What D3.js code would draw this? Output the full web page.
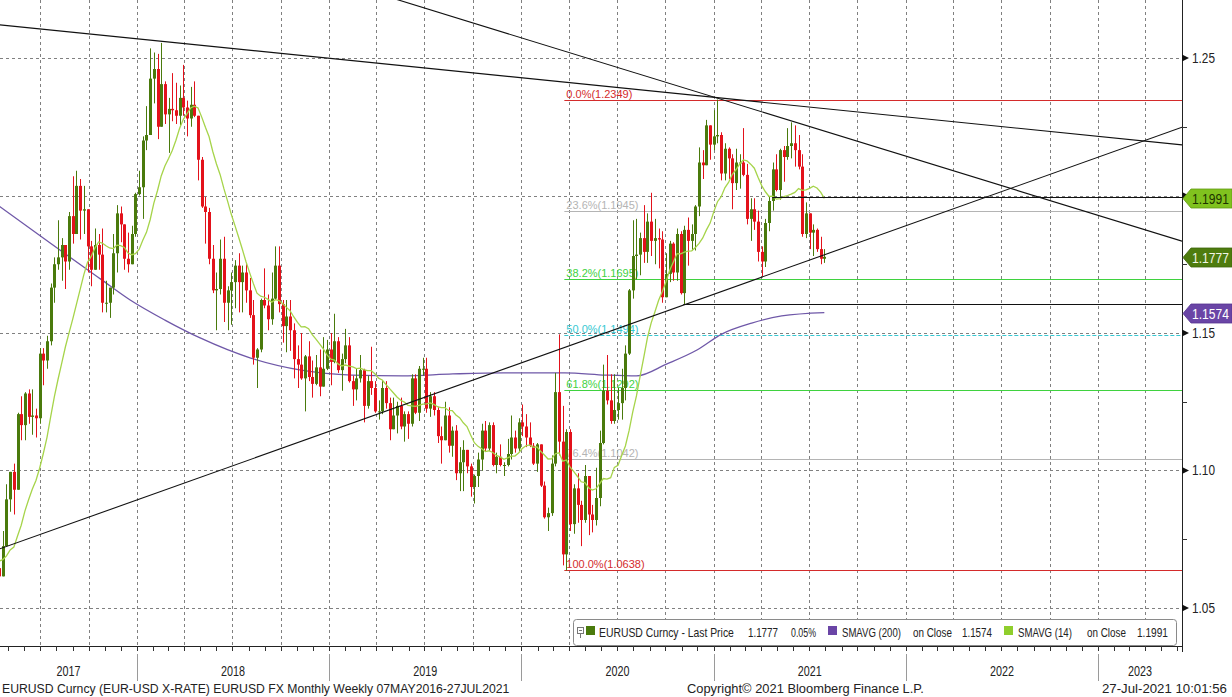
<!DOCTYPE html>
<html><head><meta charset="utf-8">
<script src="https://cdn.jsdelivr.net/npm/d3@7"></script>
<style>
html,body{margin:0;padding:0;background:#fff;}
svg{display:block;}
</style></head><body>
<svg id="c" width="1232" height="697"></svg>
<script>
// ---------------- DATA ----------------
const firstWeek = "2017-01-06"; // weekly bars, dated Fridays
const firstOpen = 1.0465;
const weekHigh = [
 1.0625,1.0685,1.0720,1.0775,1.0830,1.0795,1.0680,1.0630,1.0630,1.0700,1.0745,1.0820,1.0905,1.0690,1.0680,1.0780,1.0950,1.0995,1.1025,1.1210,1.1270,1.1285,1.1295,1.1295,1.1225,1.1445,1.1445,1.1490,1.1680,1.1775,1.1910,1.1845,1.1780,1.1940,1.2070,1.2090,1.2060,1.2035,1.1950,1.1835,1.1880,1.1860,1.1880,1.1690,1.1665,1.1860,1.1965,1.1960,1.1865,1.1865,1.1890,1.2010,
 1.2090,1.2215,1.2325,1.2535,1.2520,1.2515,1.2555,1.2415,1.2355,1.2445,1.2410,1.2400,1.2475,1.2345,1.2395,1.2415,1.2280,1.2140,1.1995,1.1955,1.1820,1.1720,1.1840,1.1850,1.1670,1.1720,1.1765,1.1790,1.1745,1.1750,1.1700,1.1620,1.1445,1.1625,1.1735,1.1640,1.1720,1.1815,1.1815,1.1620,1.1620,1.1620,1.1535,1.1455,1.1500,1.1420,1.1470,1.1400,1.1420,1.1440,1.1485,1.1475,
 1.1500,1.1570,1.1485,1.1425,1.1515,1.1485,1.1345,1.1370,1.1420,1.1370,1.1345,1.1450,1.1325,1.1255,1.1325,1.1325,1.1265,1.1265,1.1250,1.1265,1.1215,1.1215,1.1350,1.1350,1.1380,1.1410,1.1410,1.1285,1.1285,1.1230,1.1160,1.1250,1.1230,1.1160,1.1165,1.1085,1.1110,1.1075,1.1025,1.0985,1.1065,1.1170,1.1180,1.1175,1.1175,1.1065,1.1095,1.1030,1.1115,1.1200,1.1145,1.1190,
 1.1240,1.1205,1.1175,1.1100,1.1100,1.1095,1.0960,1.0865,1.1055,1.1355,1.1495,1.1235,1.1150,1.1150,1.0950,1.0990,1.0890,1.1020,1.0980,1.0875,1.1010,1.1145,1.1385,1.1420,1.1350,1.1350,1.1300,1.1370,1.1455,1.1660,1.1910,1.1915,1.1865,1.1965,1.1935,1.2010,1.1915,1.1880,1.1870,1.1790,1.1835,1.1830,1.1880,1.1870,1.1890,1.1920,1.1895,1.1965,1.2175,1.2165,1.2275,1.2250,
 1.2310,1.2349,1.2230,1.2190,1.2175,1.2150,1.2170,1.2150,1.2245,1.2115,1.1990,1.1990,1.1945,1.1815,1.1915,1.1995,1.2120,1.2150,1.2170,1.2180,1.2245,1.2266,1.2255,1.2220,1.2150,1.1975,1.1935,1.1895,1.1880,1.1850,1.1805
];
const weekLow = [
 1.0340,1.0455,1.0580,1.0620,1.0620,1.0590,1.0520,1.0495,1.0495,1.0525,1.0605,1.0720,1.0650,1.0585,1.0570,1.0640,1.0820,1.0850,1.0840,1.0935,1.1110,1.1110,1.1170,1.1130,1.1120,1.1170,1.1310,1.1370,1.1455,1.1610,1.1730,1.1690,1.1660,1.1730,1.1825,1.1860,1.1840,1.1860,1.1720,1.1670,1.1730,1.1730,1.1575,1.1575,1.1555,1.1640,1.1720,1.1830,1.1730,1.1720,1.1790,1.1850,
 1.2000,1.1915,1.2165,1.2225,1.2335,1.2205,1.2260,1.2260,1.2155,1.2270,1.2260,1.2255,1.2290,1.2215,1.2250,1.2285,1.2055,1.1955,1.1825,1.1750,1.1645,1.1510,1.1640,1.1540,1.1510,1.1530,1.1590,1.1575,1.1575,1.1610,1.1555,1.1385,1.1300,1.1430,1.1590,1.1510,1.1530,1.1620,1.1575,1.1465,1.1430,1.1435,1.1335,1.1300,1.1330,1.1215,1.1325,1.1265,1.1310,1.1270,1.1305,1.1365,
 1.1310,1.1390,1.1355,1.1290,1.1390,1.1320,1.1235,1.1255,1.1320,1.1175,1.1225,1.1275,1.1210,1.1185,1.1205,1.1225,1.1110,1.1160,1.1135,1.1150,1.1105,1.1115,1.1160,1.1205,1.1180,1.1345,1.1210,1.1195,1.1200,1.1100,1.1025,1.1110,1.1065,1.1050,1.0965,1.0925,1.0925,1.0990,1.0905,1.0880,1.0940,1.1000,1.1070,1.1070,1.1015,1.0990,1.1015,1.0980,1.1015,1.1040,1.1065,1.1070,
 1.1125,1.1085,1.1085,1.1020,1.0995,1.0940,1.0825,1.0780,1.0835,1.1015,1.1055,1.0655,1.0636,1.0780,1.0770,1.0810,1.0725,1.0810,1.0765,1.0775,1.0800,1.0870,1.1095,1.1240,1.1170,1.1170,1.1185,1.1185,1.1255,1.1420,1.1625,1.1695,1.1710,1.1755,1.1755,1.1780,1.1750,1.1735,1.1610,1.1630,1.1685,1.1690,1.1690,1.1640,1.1605,1.1745,1.1800,1.1800,1.1925,1.2060,1.2115,1.2130,
 1.2165,1.2190,1.2055,1.2055,1.2060,1.1950,1.2020,1.2025,1.2070,1.1895,1.1835,1.1875,1.1760,1.1705,1.1740,1.1870,1.1945,1.2015,1.1985,1.2050,1.2130,1.2135,1.2105,1.2095,1.1850,1.1845,1.1805,1.1780,1.1795,1.1750,1.1755
];
const weekClose = [
 1.0530,1.0645,1.0705,1.0695,1.0785,1.0640,1.0615,1.0560,1.0620,1.0670,1.0740,1.0800,1.0650,1.0645,1.0615,1.0725,1.0895,1.0995,1.0930,1.1205,1.1165,1.1280,1.1195,1.1200,1.1190,1.1425,1.1400,1.1470,1.1665,1.1750,1.1775,1.1820,1.1760,1.1925,1.1860,1.2035,1.1945,1.1950,1.1815,1.1730,1.1820,1.1785,1.1610,1.1610,1.1665,1.1790,1.1935,1.1895,1.1770,1.1750,1.1860,1.2005,
 1.2030,1.2200,1.2220,1.2425,1.2460,1.2250,1.2405,1.2295,1.2315,1.2310,1.2290,1.2355,1.2320,1.2280,1.2330,1.2290,1.2130,1.1960,1.1940,1.1770,1.1655,1.1660,1.1770,1.1610,1.1655,1.1685,1.1745,1.1685,1.1720,1.1655,1.1565,1.1410,1.1440,1.1620,1.1600,1.1550,1.1625,1.1745,1.1605,1.1525,1.1560,1.1510,1.1405,1.1385,1.1335,1.1415,1.1340,1.1315,1.1375,1.1305,1.1370,1.1440,
 1.1395,1.1470,1.1365,1.1405,1.1455,1.1325,1.1295,1.1335,1.1365,1.1235,1.1325,1.1300,1.1215,1.1215,1.1300,1.1245,1.1150,1.1200,1.1235,1.1160,1.1205,1.1170,1.1335,1.1210,1.1370,1.1370,1.1225,1.1270,1.1220,1.1125,1.1110,1.1200,1.1090,1.1145,1.0990,1.1030,1.1075,1.1015,1.0940,1.0980,1.1040,1.1145,1.1080,1.1165,1.1020,1.1050,1.1020,1.1020,1.1060,1.1120,1.1080,1.1175,
 1.1160,1.1120,1.1090,1.1025,1.1095,1.0945,1.0830,1.0845,1.1025,1.1285,1.1105,1.0695,1.1140,1.0805,1.0935,1.0875,1.0820,1.0980,1.0840,1.0820,1.0900,1.1100,1.1290,1.1255,1.1180,1.1220,1.1245,1.1300,1.1425,1.1655,1.1780,1.1785,1.1845,1.1795,1.1905,1.1835,1.1845,1.1840,1.1630,1.1715,1.1825,1.1720,1.1860,1.1645,1.1875,1.1835,1.1860,1.1960,1.2120,1.2110,1.2255,1.2185,
 1.2215,1.2220,1.2080,1.2170,1.2135,1.2045,1.2120,1.2120,1.2075,1.1915,1.1950,1.1905,1.1795,1.1760,1.1900,1.1980,1.2095,1.2020,1.2165,1.2140,1.2180,1.2190,1.2165,1.2105,1.1860,1.1935,1.1865,1.1875,1.1805,1.1770,1.1777
];
// 200-week simple moving average
const sma200Dates  = ["2017-04-15","2017-07-20","2017-10-24","2017-12-19","2018-02-23","2018-05-01","2018-08-05","2018-11-09","2019-02-13","2019-05-20","2019-08-24","2019-11-28","2020-03-24","2020-06-10","2020-08-07","2020-10-03","2020-11-30","2021-01-16","2021-03-14","2021-05-10","2021-07-30"];
const sma200Values = [1.1960,1.1827,1.1696,1.1620,1.1547,1.1482,1.1409,1.1365,1.1347,1.1344,1.1351,1.1355,1.1355,1.1347,1.1344,1.1387,1.1438,1.1496,1.1536,1.1562,1.1574];

const yTicks = [1.05, 1.10, 1.15, 1.20, 1.25];
const yMinorTicks = [1.075, 1.125, 1.175, 1.225];
const yearLabels = ["2017","2018","2019","2020","2021","2022","2023"];

const fibHigh = 1.2349, fibLow = 1.0638, fibStart = "2020-03-23";
const fibLevels = [0, 0.236, 0.382, 0.5, 0.618, 0.764, 1];
const fibColors = ["#d42b2b","#b4b4b4","#3fd23f","#36c8d2","#3fd23f","#b4b4b4","#d42b2b"];

// straight trend lines drawn through two (date, price) anchors and extended
const trendLines = [
  [["2018-01-01", 1.2570], ["2021-01-01", 1.2357]],
  [["2021-01-01", 1.2358], ["2022-01-01", 1.2143]],
  [["2018-01-01", 1.0893], ["2021-01-01", 1.1641]]
];
// horizontal levels starting at a date
const levelLines = [["2020-11-04", 1.1607], ["2021-04-22", 1.1996]];

const lastTags = [
  {value: 1.1991, fill: "#80c21e", stroke:"#5f9a10", text: "#1d3300"},
  {value: 1.1777, fill: "#4e7c0e", stroke:"#3e660a", text: "#f2f6e6"},
  {value: 1.1574, fill: "#6a45a6", stroke:"#553390", text: "#ffffff"}
];
const legendItems = [
  {color:"#4a7a0c", label:"EURUSD Curncy - Last Price", value:"1.1777", extra:"0.05%"},
  {color:"#6a45a6", label:"SMAVG (200)", on:"on Close", value:"1.1574"},
  {color:"#8fce2c", label:"SMAVG (14)", on:"on Close", value:"1.1991"}
];
const footerLeft = "EURUSD Curncy (EUR-USD X-RATE) EURUSD FX Monthly  Weekly 07MAY2016-27JUL2021";
const footerMid = "Copyright\u00A9 2021 Bloomberg Finance L.P.";
const footerRight = "27-Jul-2021 10:01:56";

// ---------------- CHART ----------------
const W = 1232, H = 697, PR = 1182, PB = 646;
const FONT = '"Liberation Sans Narrow","Arial Narrow","Liberation Sans",Arial,sans-serif';
const REG = '"Liberation Sans",Arial,sans-serif';
const svg = d3.select("#c");
const pd = s => new Date(s + "T00:00:00Z");
const x = d3.scaleUtc().domain([pd("2018-01-01"), pd("2023-01-01")]).range([137, 1098]);
const y = d3.scaleLinear().domain([1.05, 1.25]).range([608, 58]);

// condensed text: keep the font height, squeeze horizontally to the target width
function squeeze(t, width, size) {
  t.attr("font-size", size);
  const w = t.node().getComputedTextLength();
  const k = Math.min(1, width / w);
  const x0 = +t.attr("x");
  t.attr("transform", `translate(${x0},0) scale(${k.toFixed(4)},1) translate(${-x0},0)`);
  return t;
}

const t0 = pd(firstWeek).getTime();
const bars = weekClose.map((c, i) => ({
  date: new Date(t0 + i * 7 * 864e5),
  open: i === 0 ? firstOpen : weekClose[i - 1],
  high: weekHigh[i], low: weekLow[i], close: c
}));
const sma14 = [];
for (let i = 13; i < bars.length; i++) {
  sma14.push({date: bars[i].date, v: d3.mean(weekClose.slice(i - 13, i + 1))});
}

svg.append("defs").append("clipPath").attr("id","plot")
  .append("rect").attr("x",0).attr("y",0).attr("width",PR).attr("height",PB);

const g = svg.append("g").attr("clip-path","url(#plot)");

// grid
const domStart = pd("2017-01-01"), domEnd = pd("2024-01-01");
g.selectAll(".vg").data(d3.utcMonth.every(3).range(domStart, domEnd)).join("line")
  .attr("x1", d => Math.round(x(d)) + 0.5).attr("x2", d => Math.round(x(d)) + 0.5)
  .attr("y1", 0).attr("y2", PB).attr("stroke", "#808080").attr("stroke-dasharray","3,3");
g.selectAll(".hg").data(yTicks).join("line")
  .attr("x1", 0).attr("x2", PR).attr("y1", d => Math.round(y(d)) + 0.5).attr("y2", d => Math.round(y(d)) + 0.5)
  .attr("stroke", "#808080").attr("stroke-dasharray","3,3");

// fibonacci
const fx0 = x(pd(fibStart));
fibLevels.forEach((lv, i) => {
  const v = fibHigh - (fibHigh - fibLow) * lv;
  const yy = Math.round(y(v)) + 0.5;
  g.append("line").attr("x1", fx0).attr("x2", PR).attr("y1", yy).attr("y2", yy)
    .attr("stroke", fibColors[i]).attr("stroke-width", 1)
    .attr("stroke-dasharray", lv === 0.5 ? "4,2" : null);
  g.append("text").attr("x", fx0 + 2).attr("y", yy - 3)
    .attr("font-family", REG).attr("font-size", 11).attr("fill", fibColors[i])
    .text((lv * 100).toFixed(1) + "%(" + v.toFixed(4) + ")");
});

// SMA 200
const line = d3.line().x(d => x(d.date)).y(d => y(d.v)).curve(d3.curveMonotoneX);
g.append("path").datum(sma200Dates.map((d, i) => ({date: pd(d), v: sma200Values[i]})))
  .attr("d", line).attr("fill","none").attr("stroke","#6f58a8").attr("stroke-width",1.3);

// candles
const up = "#4a7a0c", dn = "#e3121b";
const cg = g.append("g");
bars.forEach(b => {
  const cx = Math.round(x(b.date)) + 0.5;
  const col = b.close >= b.open ? up : dn;
  const hi = Math.max(b.high, b.open, b.close), lo = Math.min(b.low, b.open, b.close);
  cg.append("line").attr("x1", cx).attr("x2", cx).attr("y1", y(hi)).attr("y2", y(lo))
    .attr("stroke", col).attr("stroke-width", 1);
  const yt = y(Math.max(b.open, b.close)), yb = y(Math.min(b.open, b.close));
  cg.append("rect").attr("x", cx - 1.5).attr("width", 3).attr("y", yt).attr("height", Math.max(1, yb - yt))
    .attr("fill", col);
});

// SMA 14
g.append("path").datum(sma14).attr("d", d3.line().x(d => x(d.date)).y(d => y(d.v)))
  .attr("fill","none").attr("stroke","#a6d44a").attr("stroke-width",1.3);

// trend lines
trendLines.forEach(([a, b]) => {
  const x1 = x(pd(a[0])), y1 = y(a[1]), x2 = x(pd(b[0])), y2 = y(b[1]);
  const m = (y2 - y1) / (x2 - x1);
  g.append("line").attr("x1", -5).attr("y1", y1 + (-5 - x1) * m)
    .attr("x2", PR).attr("y2", y1 + (PR - x1) * m)
    .attr("stroke", "#111").attr("stroke-width", 1.1);
});
levelLines.forEach(([d, v]) => {
  const yy = Math.round(y(v)) + 0.5;
  g.append("line").attr("x1", x(pd(d))).attr("x2", PR).attr("y1", yy).attr("y2", yy)
    .attr("stroke", "#111").attr("stroke-width", 1.1);
});

// axes frame
svg.append("line").attr("x1", PR + 0.5).attr("x2", PR + 0.5).attr("y1", 0).attr("y2", 652).attr("stroke", "#222");
svg.append("line").attr("x1", 0).attr("x2", PR).attr("y1", PB + 0.5).attr("y2", PB + 0.5).attr("stroke", "#222");

// month ticks on time axis
svg.selectAll(".mt").data(d3.utcMonth.range(domStart, domEnd).filter(d => x(d) >= 0 && x(d) <= PR)).join("line")
  .attr("x1", d => Math.round(x(d)) + 0.5).attr("x2", d => Math.round(x(d)) + 0.5)
  .attr("y1", PB).attr("y2", PB + 5).attr("stroke", "#333");
// year separators and labels
const years = d3.utcYear.range(domStart, domEnd);
svg.selectAll(".ys").data(years.filter(d => x(d) > 0 && x(d) < PR)).join("line")
  .attr("x1", d => Math.round(x(d)) + 0.5).attr("x2", d => Math.round(x(d)) + 0.5)
  .attr("y1", PB + 8).attr("y2", 681).attr("stroke", "#9a9a9a");
yearLabels.forEach(lbl => {
  const a = Math.max(0, x(pd(lbl + "-01-01"))), b = Math.min(PR, x(pd((+lbl + 1) + "-01-01")));
  squeeze(svg.append("text").attr("x", (a + b) / 2).attr("y", 676).attr("text-anchor", "middle")
    .attr("font-family", FONT).attr("fill", "#222").text(lbl), 24, 14);
});

// y axis (labels hidden where a last-value tag covers them)
yTicks.forEach(v => {
  const yy = y(v);
  svg.append("path").attr("d", `M${PR},${yy - 3.5}L${PR + 7},${yy}L${PR},${yy + 3.5}Z`).attr("fill", "#111");
  const covered = lastTags.some(t => Math.abs(y(t.value) - yy) < 12);
  if (!covered) {
    squeeze(svg.append("text").attr("x", PR + 10).attr("y", yy + 5).attr("font-family", FONT)
      .attr("fill", "#222").text(d3.format(".2f")(v)), 23, 14.5);
  }
});
yMinorTicks.forEach(v => {
  svg.append("line").attr("x1", PR).attr("x2", PR + 5).attr("y1", Math.round(y(v)) + 0.5).attr("y2", Math.round(y(v)) + 0.5)
    .attr("stroke", "#333");
});

// last-value tags
lastTags.forEach(t => {
  const yc = Math.round(y(t.value)) + 0.5;
  svg.append("path").attr("d", `M${PR + 1},${yc}L${PR + 9},${yc - 9.5}L${W},${yc - 9.5}L${W},${yc + 9.5}L${PR + 9},${yc + 9.5}Z`)
    .attr("fill", t.fill).attr("stroke", t.stroke).attr("stroke-width", 0.8);
  squeeze(svg.append("text").attr("x", PR + 10).attr("y", yc + 5.5).attr("font-family", REG)
    .attr("fill", t.text).text(t.value.toFixed(4)), 37, 15);
});

// legend
const lg = svg.append("g");
lg.append("rect").attr("x", 573.5).attr("y", 619.5).attr("width", 603).attr("height", 26).attr("rx", 3)
  .attr("fill", "#fff").attr("stroke", "#8a8a8a");
lg.append("rect").attr("x", 577.5).attr("y", 627.5).attr("width", 6).attr("height", 6).attr("fill","none").attr("stroke","#777");
lg.append("line").attr("x1", 579).attr("x2", 582).attr("y1", 630.5).attr("y2", 630.5).attr("stroke","#777");
lg.append("line").attr("x1", 580.5).attr("x2", 580.5).attr("y1", 634).attr("y2", 638).attr("stroke","#777");
function lt(xp, s, w) {
  squeeze(lg.append("text").attr("x", xp).attr("y", 637).text(s)
    .attr("font-family", FONT).attr("fill", "#222"), w, 13);
}
lg.append("rect").attr("x", 586).attr("y", 626).attr("width", 9).attr("height", 9).attr("fill", legendItems[0].color);
lt(599, legendItems[0].label, 135);
lt(748, legendItems[0].value, 30);
lt(791, legendItems[0].extra, 25);
lg.append("rect").attr("x", 828).attr("y", 626).attr("width", 9).attr("height", 9).attr("fill", legendItems[1].color);
lt(842, legendItems[1].label, 59);
lt(913, legendItems[1].on, 39);
lt(962, legendItems[1].value, 30);
lg.append("rect").attr("x", 1004).attr("y", 626).attr("width", 9).attr("height", 9).attr("fill", legendItems[2].color);
lt(1018, legendItems[2].label, 54);
lt(1087, legendItems[2].on, 39);
lt(1137, legendItems[2].value, 31);

// footer
const ff = (t, w) => squeeze(t.attr("font-family", FONT).attr("fill", "#222"), w, 13.5);
ff(svg.append("text").attr("x", 2).attr("y", 693).text(footerLeft), 508);
ff(svg.append("text").attr("x", 687).attr("y", 693).text(footerMid), 237);
ff(svg.append("text").attr("x", 1102).attr("y", 693).text(footerRight), 125);
</script>
</body></html>
